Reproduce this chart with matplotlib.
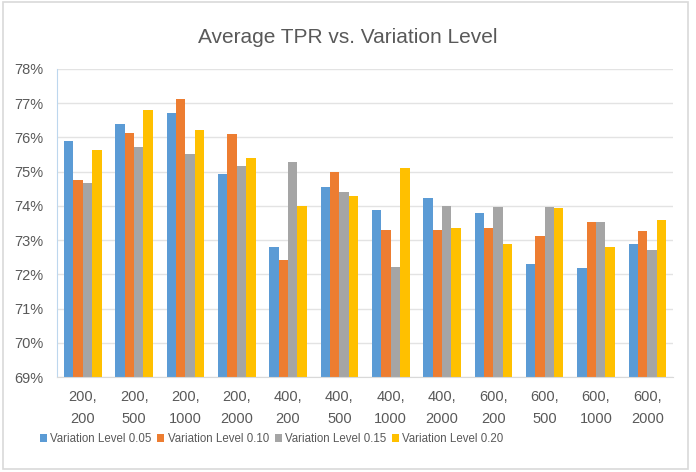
import numpy as np
import matplotlib
matplotlib.use("Agg")
import matplotlib.pyplot as plt
from matplotlib.patches import Rectangle
from matplotlib.ticker import FuncFormatter

# Data
categories = ["200,\n200", "200,\n500", "200,\n1000", "200,\n2000",
              "400,\n200", "400,\n500", "400,\n1000", "400,\n2000",
              "600,\n200", "600,\n500", "600,\n1000", "600,\n2000"]
level_005 = [75.90, 76.39, 76.70, 74.93, 72.80, 74.54, 73.88, 74.24, 73.78, 72.31, 72.20, 72.88]
level_010 = [74.76, 76.13, 77.13, 76.09, 72.43, 75.00, 73.31, 73.31, 73.36, 73.12, 73.52, 73.27]
level_015 = [74.68, 75.71, 75.51, 75.16, 75.28, 74.40, 72.22, 74.01, 73.98, 73.98, 73.54, 72.71]
level_020 = [75.64, 76.79, 76.21, 75.40, 73.99, 74.29, 75.12, 73.35, 72.88, 73.94, 72.80, 73.59]
series_names = ["Variation Level 0.05", "Variation Level 0.10",
                "Variation Level 0.15", "Variation Level 0.20"]
colors = ["#5B9BD5", "#ED7D31", "#A5A5A5", "#FFC000"]

plt.rcParams['font.family'] = ['Liberation Sans', 'DejaVu Sans']
text_color = "#595959"

fig = plt.figure(figsize=(6.96, 4.72), dpi=100)
ax = fig.add_axes([0.082, 0.201, 0.885, 0.653])

# light frame around the chart area
fig.patches.append(Rectangle((0.004, 0.006), 0.985, 0.99, transform=fig.transFigure,
                             fill=False, edgecolor="#d9d9d9", linewidth=1.2))

x = np.arange(len(categories))
width = 0.183
all_series = [level_005, level_010, level_015, level_020]
for i, (vals, name, c) in enumerate(zip(all_series, series_names, colors)):
    ax.bar(x + (i - 1.5) * width, vals, width, color=c, label=name, zorder=2)

ax.set_ylim(69, 78)
ax.set_xlim(-0.5, len(categories) - 0.5)
ax.set_yticks(np.arange(69, 79, 1))
ax.yaxis.set_major_formatter(FuncFormatter(lambda v, p: f"{int(round(v))}%"))
ax.set_xticks(x)
ax.set_xticklabels(categories, linespacing=1.75)
ax.tick_params(axis="both", length=0, colors=text_color, labelsize=10.5)
ax.tick_params(axis="x", pad=9)
ax.tick_params(axis="y", pad=10)

ax.grid(axis="y", color="#e3e3e3", linewidth=1, zorder=0)
for s in ["top", "right"]:
    ax.spines[s].set_visible(False)
ax.spines["left"].set_color("#bdd7ee")
ax.spines["bottom"].set_color("#d9d9d9")

fig.text(0.499, 0.92, "Average TPR vs. Variation Level", ha="center", va="center",
         fontsize=15, color=text_color)

ax.legend(loc="upper left", bbox_to_anchor=(-0.045, -0.148), ncol=4, frameon=False,
          fontsize=8.3, handlelength=0.6, handleheight=0.6, handletextpad=0.3,
          columnspacing=0.5, labelcolor=text_color)

fig.savefig("out.png", dpi=100)
